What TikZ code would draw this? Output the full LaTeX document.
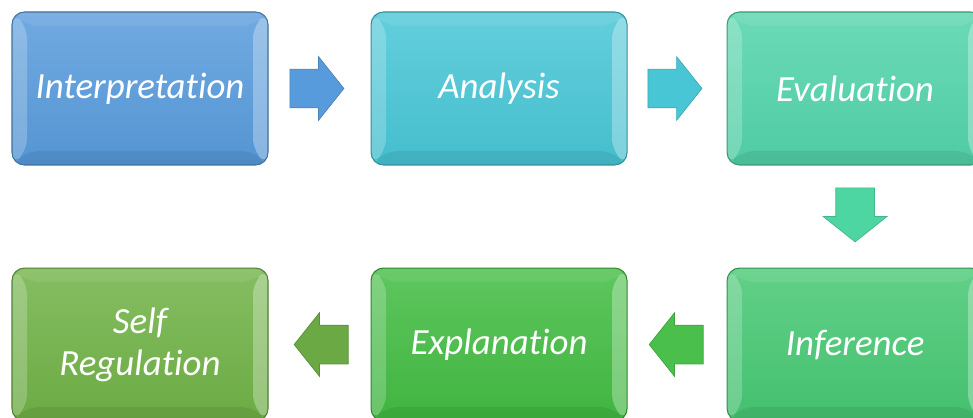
\documentclass[tikz,border=0pt]{standalone}
\usepackage{fontspec}
\setmainfont{Carlito}[Ligatures=CommonOff]
\usetikzlibrary{calc,positioning,shapes.arrows}

\definecolor{interpblue}{RGB}{88,155,220}
\definecolor{analysiscyan}{RGB}{72,198,214}
\definecolor{evalteal}{RGB}{82,212,170}
\definecolor{infergreen}{RGB}{70,200,115}
\definecolor{explgreen}{RGB}{66,188,66}
\definecolor{selfolive}{RGB}{112,178,70}

\begin{document}
\begin{tikzpicture}[
    stepbox/.style={rectangle, rounded corners=2.5mm, minimum width=5.12cm,
        minimum height=3.06cm, top color=#1!85!white, bottom color=#1!96!black,
        draw=#1!72!black, line width=0.6pt, text=white, align=center,
        font=\fontsize{21}{24}\selectfont\itshape,
        path picture={
          \fill[white, opacity=.22] (path picture bounding box.north west)
            -- ([shift={(.3,-.28)}]path picture bounding box.north west)
            -- ([shift={(.3,.28)}]path picture bounding box.south west)
            -- (path picture bounding box.south west) -- cycle;
          \fill[white, opacity=.3] (path picture bounding box.north east)
            -- ([shift={(-.3,-.28)}]path picture bounding box.north east)
            -- ([shift={(-.3,.28)}]path picture bounding box.south east)
            -- (path picture bounding box.south east) -- cycle;
          \fill[white, opacity=.08] (path picture bounding box.north west)
            -- (path picture bounding box.north east)
            -- ([shift={(-.3,-.28)}]path picture bounding box.north east)
            -- ([shift={(.3,-.28)}]path picture bounding box.north west) -- cycle;
          \fill[black, opacity=.07] (path picture bounding box.south west)
            -- (path picture bounding box.south east)
            -- ([shift={(-.3,.28)}]path picture bounding box.south east)
            -- ([shift={(.3,.28)}]path picture bounding box.south west) -- cycle;
        }},
    blockarrow/.style={single arrow, fill=#1, draw=#1!85!black, line width=0.4pt,
        inner xsep=0pt, inner ysep=0.38cm, minimum height=1.08cm,
        single arrow head extend=0.25cm, single arrow tip angle=103, anchor=tail},
    node distance=2.04cm and 2.04cm
]
\clip (0,0) rectangle (19.46,8.34);

% top row
\node (Interp) [stepbox=interpblue] at (2.80,6.57) {Interpretation};
\node (Analysis) [stepbox=analysiscyan, right=of Interp] {Analysis};
\node (Eval) [stepbox=evalteal, right=1.98cm of Analysis] {Evaluation};

% bottom row
\node (Infer) [stepbox=infergreen, below=of Eval] {Inference};
\node (Expl) [stepbox=explgreen, below=of Analysis] {Explanation};
\node (SelfReg) [stepbox=selfolive, below=of Interp] {Self\\Regulation};

% block arrows
\node (Arrow01) [blockarrow=interpblue] at ([xshift=0.42cm]Interp.east) {};
\node (Arrow02) [blockarrow=analysiscyan] at ([xshift=0.40cm]Analysis.east) {};
\node (Arrow03) [blockarrow=evalteal!95!green, rotate=270]
  at ([yshift=-0.44cm]Eval.south) {};
\node (Arrow04) [blockarrow=explgreen!95!white, rotate=180]
  at ([xshift=-0.46cm]Infer.west) {};
\node (Arrow05) [blockarrow=selfolive!95!black, rotate=180]
  at ([xshift=-0.44cm]Expl.west) {};
\end{tikzpicture}
\end{document}
